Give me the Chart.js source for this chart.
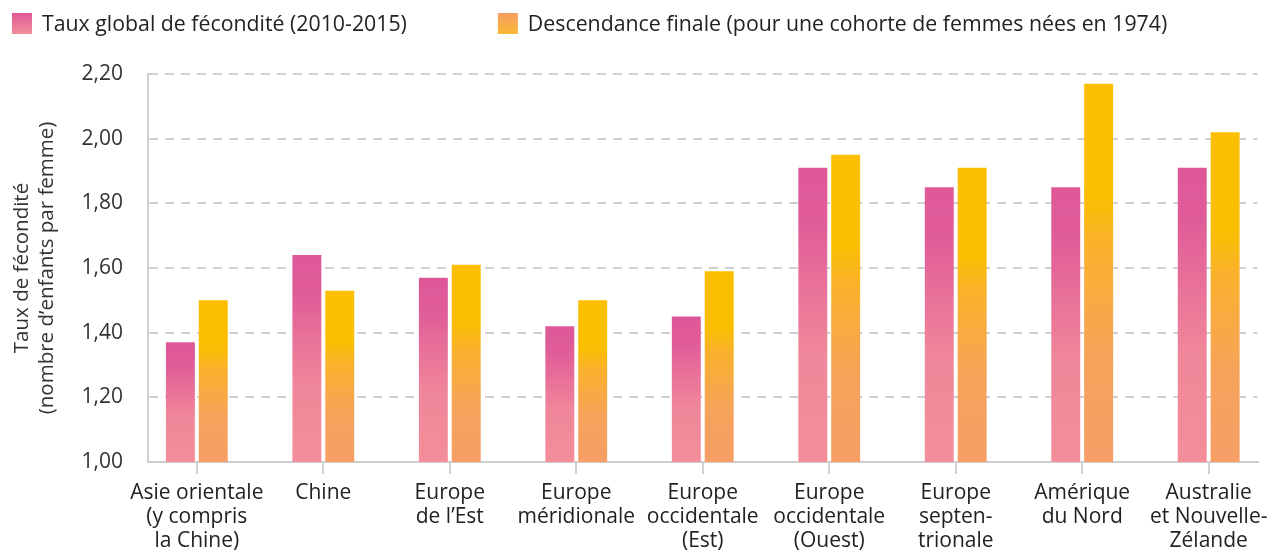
<!DOCTYPE html>
<html><head><meta charset="utf-8">
<script src="https://cdn.jsdelivr.net/npm/chart.js@4/dist/chart.umd.min.js"></script>
<style>html,body{margin:0;padding:0;background:#fff;}#wrap{width:1275px;height:551px;}</style>
</head><body><div id="wrap"><canvas id="c" width="1275" height="551"></canvas></div>
<script>
const categories = [
  ["Asie orientale","(y compris","la Chine)"],
  ["Chine"],
  ["Europe","de l’Est"],
  ["Europe","méridionale"],
  ["Europe","occidentale","(Est)"],
  ["Europe","occidentale","(Ouest)"],
  ["Europe","septen-","trionale"],
  ["Amérique","du Nord"],
  ["Australie","et Nouvelle-","Zélande"]
];
const seriesNames = ["Taux global de fécondité (2010-2015)", "Descendance finale (pour une cohorte de femmes nées en 1974)"];
const tauxGlobal = [1.37, 1.64, 1.57, 1.42, 1.45, 1.91, 1.85, 1.85, 1.91];
const descendanceFinale = [1.50, 1.53, 1.61, 1.50, 1.59, 1.95, 1.91, 2.17, 2.02];
const yTicks = [1.00, 1.20, 1.40, 1.60, 1.80, 2.00, 2.20];
const yTitle = ["Taux de fécondité", "(nombre d’enfants par femme)"];

const FONT = "'Open Sans', 'Noto Sans', sans-serif";
const pinkStops = [[0,'#DE5898'],[0.18,'#E05C98'],[0.62,'#F0869A'],[1,'#F38E9A']];
const goldStops = [[0,'#FBBF00'],[0.3,'#FBBE02'],[0.42,'#F9B22A'],[0.72,'#F6A35A'],[1,'#F69E66']];

function barGradient(stops){
  return (ctx) => {
    const chart = ctx.chart, area = chart.chartArea;
    if (!area || ctx.type !== 'data' || !chart.scales.y) return stops[0][1];
    const ys = chart.scales.y;
    const top = ys.getPixelForValue(ctx.raw.y);
    const bottom = ys.getPixelForValue(ys.min);
    if (!isFinite(top) || !isFinite(bottom) || bottom - top < 1) return stops[0][1];
    const g = chart.ctx.createLinearGradient(0, top, 0, bottom);
    stops.forEach(([o,c]) => g.addColorStop(o,c));
    return g;
  };
}

const legendPlugin = {
  id: 'customLegend',
  afterDraw(chart){
    const c = chart.ctx;
    c.save();
    c.font = "21.3px " + FONT;
    c.textBaseline = 'middle';
    const boxSize = 21, boxY = 13, gapBoxText = 9, gapItems = 91;
    let x = 12;
    const boxStops = [
      [[0,'#E05A98'],[1,'#F38E9A']],
      [[0,'#F59E62'],[1,'#FBB735']]
    ];
    seriesNames.forEach((name, i) => {
      const g = c.createLinearGradient(0, boxY, 0, boxY + boxSize);
      boxStops[i].forEach(([o,col]) => g.addColorStop(o,col));
      c.fillStyle = g;
      c.fillRect(x, boxY, boxSize - 1, boxSize);
      c.fillStyle = '#222';
      const tx = x + boxSize + gapBoxText;
      c.fillText(name, tx, boxY + boxSize/2 + 1);
      x = tx + c.measureText(name).width + gapItems;
    });
    c.restore();
  }
};

new Chart(document.getElementById('c'), {
  type: 'bar',
  data: {
    datasets: [
      { label: seriesNames[0], data: tauxGlobal.map((v,i)=>({x:i,y:v})), backgroundColor: barGradient(pinkStops), borderWidth: 0 },
      { label: seriesNames[1], data: descendanceFinale.map((v,i)=>({x:i,y:v})), backgroundColor: barGradient(goldStops), borderWidth: 0 }
    ]
  },
  options: {
    responsive: false,
    animation: false,
    events: [],
    devicePixelRatio: 1,
    categoryPercentage: 0.52,
    barPercentage: 0.88,
    layout: { padding: { top: 74, right: 13, left: 0, bottom: 0 } },
    plugins: { legend: { display: false }, tooltip: { enabled: false } },
    scales: {
      x: {
        type: 'linear', min: -0.386, max: 8.386, offset: false,
        afterBuildTicks: (s) => { s.ticks = categories.map((_, i) => ({ value: i })); },
        ticks: {
          autoSkip: false, maxRotation: 0, minRotation: 0, padding: 7, color: '#222',
          font: { family: FONT, size: 21, lineHeight: 1.143 },
          callback: (v) => categories[v]
        },
        grid: { offset: false, drawOnChartArea: false, drawTicks: true, tickLength: 12, color: '#cfcfcf', lineWidth: 2 },
        border: { display: true, color: '#cfcfcf', width: 2 },
        afterFit: (s) => { s.height = 89; }
      },
      y: {
        min: 1, max: 2.2,
        afterBuildTicks: (s) => { s.ticks = yTicks.map(v => ({ value: v })); },
        ticks: {
          padding: 25, color: '#333',
          font: { family: FONT, size: 21 },
          callback: (v) => Number(v).toFixed(2).replace('.', ',')
        },
        grid: { drawTicks: false, color: '#d0d0d0', lineWidth: 2 },
        border: { display: true, color: '#cfcfcf', width: 2, dash: [9, 7] },
        title: { display: true, text: yTitle, padding: { top: 10, bottom: 0 }, color: '#333', font: { family: FONT, size: 20.5, lineHeight: 1.22 } },
        afterFit: (s) => { s.width = 148; }
      }
    }
  },
  plugins: [legendPlugin]
});
</script></body></html>
